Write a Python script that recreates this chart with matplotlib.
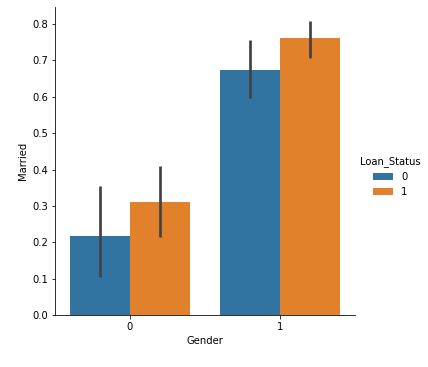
import numpy as np
import matplotlib
matplotlib.use("Agg")
import matplotlib.pyplot as plt

genders = ["0", "1"]
status = ["0", "1"]
married = {"0": [0.217, 0.673], "1": [0.311, 0.762]}
ci_low = {"0": [0.106, 0.598], "1": [0.214, 0.708]}
ci_high = {"0": [0.354, 0.755], "1": [0.410, 0.808]}
colors = {"0": "#3274a1", "1": "#e1812c"}

W, H = 428, 367
fig = plt.figure(figsize=(W / 72, H / 72), dpi=72)
ax = fig.add_axes([55 / W, (H - 315.3) / H, 299.7 / W, 308 / H])

x = np.arange(len(genders))
width = 0.4
handles = []
for i, s in enumerate(status):
    pos = x + (i - 0.5) * width
    vals = np.array(married[s])
    b = ax.bar(pos, vals, width, color=colors[s], label=s)
    handles.append(b)
    for p, lo, hi in zip(pos, ci_low[s], ci_high[s]):
        ax.plot([p, p], [lo, hi], color=".26", lw=2.7, solid_capstyle="butt")

ax.set_xlim(-0.5, 1.5)
ax.set_ylim(0, 0.846)
ax.set_xticks(x)
ax.set_xticklabels(genders)
ax.set_yticks(np.arange(0, 0.81, 0.1))
ax.set_xlabel("Gender")
ax.set_ylabel("Married")
ax.spines["top"].set_visible(False)
ax.spines["right"].set_visible(False)

fig.legend(handles=handles, labels=status, title="Loan_Status", frameon=False,
           loc="center left", bbox_to_anchor=(351 / W, (H - 177) / H))

fig.savefig("out.png", dpi=72)
